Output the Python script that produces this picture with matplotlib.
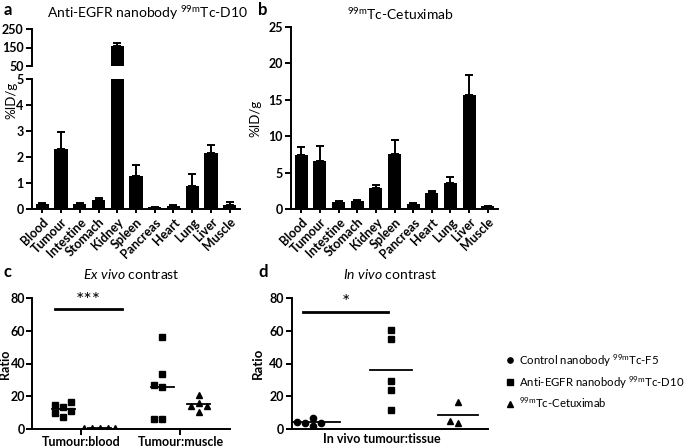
import numpy as np
import matplotlib
matplotlib.use("Agg")
from matplotlib import pyplot as plt
from matplotlib.lines import Line2D

plt.rcParams['font.family'] = ['Lato', 'DejaVu Sans']
plt.rcParams['mathtext.fontset'] = 'custom'
plt.rcParams['mathtext.rm'] = 'Lato'
plt.rcParams['mathtext.it'] = 'Lato:italic'
plt.rcParams['axes.linewidth'] = 1.4

# ---- data ----
organs = ['Blood', 'Tumour', 'Intestine', 'Stomach', 'Kidney', 'Spleen',
          'Pancreas', 'Heart', 'Lung', 'Liver', 'Muscle']
d10_mean = [0.2, 2.3, 0.2, 0.33, 160, 1.27, 0.07, 0.12, 0.88, 2.15, 0.15]
d10_err = [0.02, 0.68, 0.03, 0.1, 15, 0.43, 0.01, 0.03, 0.46, 0.33, 0.12]
cet_mean = [7.4, 6.6, 1.0, 1.1, 2.9, 7.5, 0.7, 2.2, 3.6, 15.6, 0.4]
cet_err = [1.05, 2.0, 0.12, 0.08, 0.45, 1.95, 0.15, 0.22, 0.8, 2.8, 0.06]

# ex vivo contrast ratios
exv_blood_d10 = [14.5, 11.0, 13.5, 16.5, 7.5, 9.5]
exv_blood_cet = [0.5, 0.6, 0.4, 0.5, 0.7]
exv_muscle_d10 = [56.0, 33.5, 27.0, 25.5, 6.0, 6.0]
exv_muscle_cet = [21.0, 16.0, 14.0, 14.0, 10.5]
exv_labels = ['Tumour:blood', 'Tumour:muscle']

# in vivo tumour:tissue ratios
inv_f5 = [3.5, 7.0, 2.0, 3.5, 4.0]
inv_d10 = [60.5, 55.0, 29.5, 24.0, 11.5]
inv_cet = [16.5, 3.5, 5.0]

sup = r'$^{\mathrm{99m}}$'
series_names = ['Control nanobody ' + sup + 'Tc-F5',
                'Anti-EGFR nanobody ' + sup + 'Tc-D10',
                sup + 'Tc-Cetuximab']

W, H = 685, 447


def box(x0, x1, y_top, y_bot):
    return [x0 / W, 1 - y_bot / H, (x1 - x0) / W, (y_bot - y_top) / H]


def swarm(values, step, ythr):
    # simple column-scatter layout
    placed = []
    offs = np.zeros(len(values))
    for i in np.argsort(values):
        v = values[i]
        k = 0
        while True:
            cands = [0.0] if k == 0 else [-k * step, k * step]
            ok = None
            for c in cands:
                if all(abs(c - o) > step * 0.9 or abs(v - pv) > ythr for o, pv in placed):
                    ok = c
                    break
            if ok is not None:
                offs[i] = ok
                placed.append((ok, v))
                break
            k += 1
    return offs


def style_ax(ax):
    for s in ['top', 'right']:
        ax.spines[s].set_visible(False)
    ax.tick_params(width=1.4, length=4, labelsize=9, pad=2)
    for lab in ax.get_yticklabels():
        lab.set_fontweight('bold')


fig = plt.figure(figsize=(W / 100, H / 100), dpi=100)
x = np.arange(len(organs))

# ---- panel a (broken axis) ----
ax_lo = fig.add_axes(box(32, 240, 79, 209))
ax_hi = fig.add_axes(box(32, 240, 29, 66))
for ax in (ax_lo, ax_hi):
    ax.bar(x, d10_mean, width=0.7, color='black',
           yerr=[np.zeros(len(x)), d10_err], capsize=3,
           error_kw=dict(elinewidth=1.4, capthick=1.4, ecolor='black'))
    ax.set_xlim(-0.55, 10.55)
ax_lo.set_ylim(0, 5)
ax_lo.set_yticks([0, 1, 2, 3, 4, 5])
ax_hi.set_ylim(50, 250)
ax_hi.set_yticks([50, 150, 250])
ax_hi.spines['bottom'].set_visible(False)
ax_hi.set_xticks([])
style_ax(ax_lo)
style_ax(ax_hi)
ax_lo.set_xticks(x)
ax_lo.set_xticklabels(organs, rotation=45, ha='right', rotation_mode='anchor',
                      fontweight='bold', fontsize=9)
ax_lo.tick_params(axis='x', length=3)
fig.text(11 / W, 1 - 100 / H, '%ID/g', rotation=90, ha='center', va='center',
         fontsize=9.5)
fig.text(148 / W, 1 - 13 / H, 'Anti-EGFR nanobody ' + sup + 'Tc-D10',
         ha='center', va='center', fontsize=10)
fig.text(4 / W, 1 - 10 / H, 'a', fontsize=12, fontweight='bold', va='center')

# ---- panel b ----
ax_b = fig.add_axes(box(291, 498, 27, 209))
ax_b.bar(x, cet_mean, width=0.7, color='black',
         yerr=[np.zeros(len(x)), cet_err], capsize=3,
         error_kw=dict(elinewidth=1.4, capthick=1.4, ecolor='black'))
ax_b.set_xlim(-0.55, 10.55)
ax_b.set_ylim(0, 25)
ax_b.set_yticks([0, 5, 10, 15, 20, 25])
ax_b.set_xticks(x)
ax_b.set_xticklabels(organs, rotation=45, ha='right', rotation_mode='anchor',
                     fontweight='bold', fontsize=9)
style_ax(ax_b)
ax_b.tick_params(axis='x', length=3)
ax_b.set_ylabel('%ID/g', fontsize=9.5, labelpad=5)
fig.text(400 / W, 1 - 14 / H, sup + 'Tc-Cetuximab', ha='center', va='center',
         fontsize=10)
fig.text(258 / W, 1 - 10 / H, 'b', fontsize=12, fontweight='bold', va='center')

# ---- panel c ----
ax_c = fig.add_axes(box(32, 230, 298, 429))
groups_c = [(1.5 - 0.55, exv_blood_d10, 's', 0.35),
            (1.5 + 0.55, exv_blood_cet, '^', 0.35),
            (4.5 - 0.55, exv_muscle_d10, 's', 0.35),
            (4.5 + 0.55, exv_muscle_cet, '^', 0.35)]
for xc, vals, mk, hw in groups_c:
    vals = np.array(vals)
    offs = swarm(vals, 0.24, 4.0)
    ax_c.plot(xc + offs, vals, mk, color='black', markersize=4.5, linestyle='none')
    ax_c.plot([xc - hw, xc + hw], [vals.mean()] * 2, color='black', lw=1.3)
ax_c.plot([0.7, 2.73], [73, 73], color='black', lw=2)
ax_c.text(1.7, 73.5, '***', ha='center', va='bottom', fontsize=14)
ax_c.set_xlim(0, 6)
ax_c.set_ylim(0, 80)
ax_c.set_yticks([0, 20, 40, 60, 80])
ax_c.set_xticks([1.5, 4.5])
ax_c.set_xticklabels(exv_labels, fontweight='bold', fontsize=9)
style_ax(ax_c)
ax_c.tick_params(axis='x', pad=1)
ax_c.tick_params(axis='y', pad=1)
fig.text(5.5 / W, 1 - 364 / H, 'Ratio', rotation=90, ha='center', va='center',
         fontsize=9, fontweight='bold')
ax_c.set_title(r'$\mathit{Ex\ vivo}$ contrast', fontsize=10, pad=14)
fig.text(4 / W, 1 - 272 / H, 'c', fontsize=12, fontweight='bold', va='center')

# ---- panel d ----
ax_d = fig.add_axes(box(292, 488, 298, 429))
groups_d = [(0.64, inv_f5, 'o', 0.83),
            (3.03, inv_d10, 's', 0.65),
            (5.08, inv_cet, '^', 0.62)]
for xc, vals, mk, hw in groups_d:
    vals = np.array(vals)
    offs = swarm(vals, 0.24, 4.0)
    ax_d.plot(xc + offs, vals, mk, color='black', markersize=4.5, linestyle='none')
    ax_d.plot([xc - hw, xc + hw], [vals.mean()] * 2, color='black', lw=1.3)
ax_d.plot([0.34, 2.94], [71.5, 71.5], color='black', lw=2)
ax_d.text(1.64, 72, '*', ha='center', va='bottom', fontsize=14)
ax_d.set_xlim(0, 6)
ax_d.set_ylim(0, 80)
ax_d.set_yticks([0, 20, 40, 60, 80])
ax_d.set_xticks([2.75])
ax_d.set_xticklabels(['In vivo tumour:tissue'], fontweight='bold', fontsize=9)
style_ax(ax_d)
ax_d.tick_params(axis='x', length=0, pad=3)
ax_d.set_ylabel('Ratio', fontsize=9.5, fontweight='bold', labelpad=4)
ax_d.set_title(r'$\mathit{In\ vivo}$ contrast', fontsize=10, pad=14)
fig.text(258 / W, 1 - 272 / H, 'd', fontsize=12, fontweight='bold', va='center')

# legend
handles = [Line2D([], [], marker=m, color='black', linestyle='none', markersize=3.8)
           for m in ['o', 's', '^']]
fig.legend(handles, series_names, loc='upper left',
           bbox_to_anchor=(494 / W, 1 - 342 / H), frameon=False, fontsize=8.2,
           handletextpad=0.3, labelspacing=0.45, handlelength=1.0)

fig.savefig('out.png', dpi=100)
